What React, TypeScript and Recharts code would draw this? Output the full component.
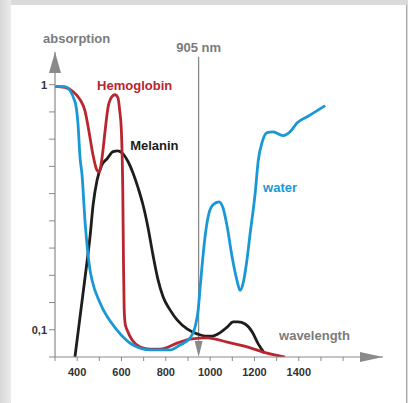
import React from "react";
import {
  LineChart,
  Line,
  XAxis,
  YAxis,
  ReferenceLine,
  ReferenceDot,
} from "recharts";

// wavelength (nm) / absorption level (0 = axis, 1 = "0,1", 10 = "1")
const waterNm = [300, 345, 390, 404, 413, 422, 435, 458, 467, 503, 580, 652, 729, 819, 864, 910, 932, 946, 955, 964, 977, 991, 1013, 1040, 1058, 1077, 1099, 1120, 1135, 1150, 1165, 1180, 1203, 1217, 1235, 1257, 1284, 1329, 1361, 1393, 1438, 1519];
const waterAbs = [9.94, 9.93, 9.38, 8.53, 7.32, 6.69, 5.04, 3.2, 2.83, 1.99, 0.99, 0.44, 0.26, 0.26, 0.44, 0.7, 1.1, 1.73, 2.57, 3.38, 4.41, 5.15, 5.59, 5.7, 5.48, 4.78, 3.68, 2.85, 2.45, 2.75, 3.5, 4.5, 6.0, 7.2, 7.9, 8.24, 8.27, 8.13, 8.27, 8.6, 8.82, 9.23];

const hbNm = [300, 345, 381, 413, 435, 455, 472, 490, 499, 512, 526, 539, 557, 571, 584, 593, 599, 606, 609, 612, 617, 625, 648, 684, 729, 774, 851, 910, 986, 1077, 1167, 1239, 1338];
const hbAbs = [9.94, 9.9, 9.75, 9.45, 9.05, 8.2, 7.4, 6.85, 6.8, 7.3, 8.3, 9.15, 9.56, 9.63, 9.52, 8.97, 8.4, 6.0, 3.5, 1.8, 1.2, 1.0, 0.62, 0.37, 0.29, 0.29, 0.51, 0.66, 0.7, 0.55, 0.37, 0.18, 0.0];

const melNm = [390, 444, 458, 472, 490, 512, 535, 562, 584, 607, 630, 652, 675, 697, 720, 742, 765, 788, 819, 851, 896, 941, 977, 1009, 1036, 1077, 1104, 1126, 1158, 1190, 1217, 1244];
const melAbs = [0, 3.46, 4.41, 5.59, 6.5, 7.06, 7.28, 7.54, 7.57, 7.46, 7.17, 6.76, 6.21, 5.59, 4.74, 3.75, 2.83, 2.2, 1.73, 1.36, 1.03, 0.85, 0.77, 0.77, 0.85, 1.1, 1.29, 1.29, 1.21, 0.92, 0.48, 0.15];

const xTicks = [300, 400, 500, 600, 700, 800, 900, 1000, 1100, 1200, 1300, 1400, 1500, 1600];
const xLabels = [400, 600, 800, 1000, 1200, 1400];
const yTicks = [0, 1, 2, 3, 4, 5, 6, 7, 8, 9, 10];
const yLabels: Record<number, string> = { 1: "0,1", 10: "1" };

const toRows = (nm: number[], v: number[]) => nm.map((n, i) => ({ nm: n, v: v[i] }));
const water = toRows(waterNm, waterAbs);
const hemoglobin = toRows(hbNm, hbAbs);
const melanin = toRows(melNm, melAbs);

const FONT = "'Liberation Sans', Arial, sans-serif";
const AXIS = "#8a8a8a";
const MUTED = "#7b7b7b";

const textShape =
  (label: string, fill: string, anchor: "start" | "middle" = "start") =>
  (p: any) =>
    (
      <text
        x={p.cx}
        y={p.cy}
        fill={fill}
        textAnchor={anchor}
        fontFamily={FONT}
        fontWeight="bold"
        fontSize={13}
      >
        {label}
      </text>
    );

const upArrow = (p: any) => (
  <polygon points={`${p.cx},${p.cy} ${p.cx - 6},${p.cy + 21} ${p.cx + 6},${p.cy + 21}`} fill={AXIS} />
);
const rightArrow = (p: any) => (
  <polygon points={`${p.cx},${p.cy} ${p.cx - 23},${p.cy - 5} ${p.cx - 23},${p.cy + 5}`} fill={AXIS} />
);
const downArrow = (p: any) => (
  <polygon points={`${p.cx},${p.cy} ${p.cx - 4},${p.cy - 16} ${p.cx + 4},${p.cy - 16}`} fill={AXIS} />
);

export default function App() {
  return (
    <div
      style={{
        position: "absolute",
        left: 0,
        top: 0,
        width: 408,
        height: 403,
        background: "#dadada",
        overflow: "hidden",
      }}
    >
      <div
        style={{
          position: "absolute",
          left: 0,
          top: 0,
          width: 11,
          height: 403,
          background: "linear-gradient(to right, #d8d8d8, #ebebeb)",
        }}
      />
      <div
        style={{
          position: "absolute",
          left: 11,
          top: 5,
          width: 395,
          height: 398,
          background: "#fff",
          borderRight: "1px solid #a5a5a5",
        }}
      />
      <div style={{ position: "absolute", left: 0, top: 0 }}>
        <LineChart
          width={408}
          height={403}
          margin={{ top: 52, right: 25, bottom: 16, left: 47 }}
          style={{ fontFamily: FONT }}
        >
          <XAxis
            dataKey="nm"
            type="number"
            domain={[300, 1780]}
            ticks={xTicks}
            allowDataOverflow
            height={30}
            tickSize={4}
            tickMargin={7}
            stroke={AXIS}
            tickLine={{ stroke: AXIS }}
            axisLine={{ stroke: AXIS, strokeWidth: 1.2 }}
            tick={{ fill: "#333", fontSize: 11, fontWeight: "bold" }}
            tickFormatter={(v: number) => (xLabels.includes(v) ? String(v) : "")}
          />
          <YAxis
            type="number"
            domain={[0, 11.2]}
            ticks={yTicks}
            allowDataOverflow
            width={8}
            tickSize={6}
            tickMargin={2}
            stroke={AXIS}
            tickLine={{ stroke: AXIS }}
            axisLine={{ stroke: AXIS, strokeWidth: 1.2 }}
            tick={{ fill: "#333", fontSize: 11, fontWeight: "bold" }}
            tickFormatter={(v: number) => yLabels[v] ?? ""}
          />
          <ReferenceLine
            segment={[
              { x: 948, y: 11.03 },
              { x: 948, y: 0.6 },
            ]}
            stroke={AXIS}
            strokeWidth={1.3}
            ifOverflow="visible"
          />
          <ReferenceDot x={948} y={0} r={0} shape={downArrow} ifOverflow="visible" />
          <ReferenceDot x={300} y={11.2} r={0} shape={upArrow} ifOverflow="visible" />
          <ReferenceDot x={1780} y={0} r={0} shape={rightArrow} ifOverflow="visible" />

          <Line
            data={melanin}
            dataKey="v"
            type="monotone"
            stroke="#1d1d1b"
            strokeWidth={2.8}
            dot={false}
            isAnimationActive={false}
          />
          <Line
            data={hemoglobin}
            dataKey="v"
            type="monotone"
            stroke="#b8262f"
            strokeWidth={2.8}
            dot={false}
            isAnimationActive={false}
          />
          <Line
            data={water}
            dataKey="v"
            type="monotone"
            stroke="#1a98d5"
            strokeWidth={2.8}
            dot={false}
            isAnimationActive={false}
          />

          <ReferenceDot x={246} y={11.54} r={0} shape={textShape("absorption", MUTED)} ifOverflow="visible" />
          <ReferenceDot x={948} y={11.21} r={0} shape={textShape("905 nm", MUTED, "middle")} ifOverflow="visible" />
          <ReferenceDot x={490} y={9.82} r={0} shape={textShape("Hemoglobin", "#b8262f")} ifOverflow="visible" />
          <ReferenceDot x={639} y={7.61} r={0} shape={textShape("Melanin", "#1d1d1b")} ifOverflow="visible" />
          <ReferenceDot x={1239} y={6.07} r={0} shape={textShape("water", "#1a98d5")} ifOverflow="visible" />
          <ReferenceDot x={1311} y={0.625} r={0} shape={textShape("wavelength", MUTED)} ifOverflow="visible" />
        </LineChart>
      </div>
    </div>
  );
}
